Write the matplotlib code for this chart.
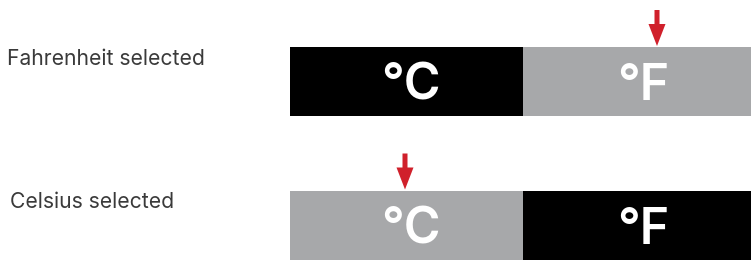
import matplotlib.pyplot as plt

# Zustände / Beschriftungen
zeilen = ["Fahrenheit selected", "Celsius selected"]
einheiten = ["°C", "°F"]
ausgewaehlt = [1, 0]  # Index der gewählten Einheit je Zeile

farbe_aktiv = "#a7a8aa"
farbe_inaktiv = "#000000"
farbe_pfeil = "#d0202b"

fig = plt.figure(figsize=(7.51, 2.62), dpi=100)
ax = fig.add_axes([0, 0, 1, 1])
ax.set_xlim(0, 751)
ax.set_ylim(262, 0)
ax.axis("off")

balken_links = 290
zellbreite = 233
zeilen_y = [81.5, 225]
balkenhoehe = 69
label_x = [7, 10]

for i, name in enumerate(zeilen):
    y = zeilen_y[i]
    ax.text(label_x[i], y - 22.5, name, fontsize=15.2, family="Inter",
            color="#3a3a3a", va="center", ha="left")
    for j, einheit in enumerate(einheiten):
        farbe = farbe_aktiv if ausgewaehlt[i] == j else farbe_inaktiv
        links = balken_links + j * zellbreite
        ax.barh(y, zellbreite, left=links, height=balkenhoehe,
                color=farbe, edgecolor="none")
        ax.text(links + zellbreite / 2 + 4, y + 5, einheit, fontsize=36,
                family="Inter", fontweight="semibold", color="white",
                ha="center", va="center")
    # Pfeil über der gewählten Einheit
    px = 405 if ausgewaehlt[i] == 0 else 657
    ytop = y - balkenhoehe / 2 - 37
    ax.arrow(px, ytop, 0, 36, width=5, head_width=17, head_length=22,
             length_includes_head=True, color=farbe_pfeil, lw=0)

fig.savefig("out.png", dpi=100)
